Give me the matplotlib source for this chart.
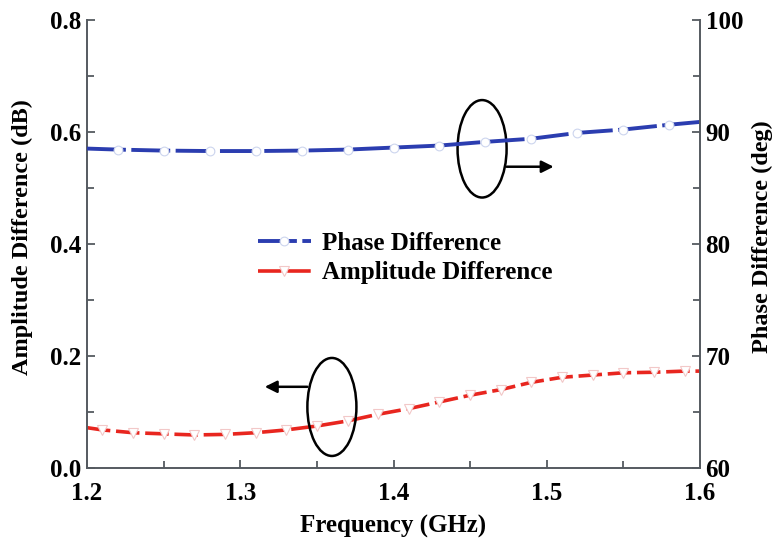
import matplotlib
matplotlib.use("Agg")
import matplotlib.pyplot as plt
from matplotlib.patches import Ellipse
from matplotlib.ticker import MultipleLocator

# ---- data ----
phase_freq = [1.20, 1.22, 1.25, 1.28, 1.31, 1.34, 1.37, 1.40, 1.43, 1.46,
              1.49, 1.52, 1.55, 1.58, 1.60]
phase_deg = [88.52, 88.43, 88.34, 88.30, 88.30, 88.34, 88.43, 88.61, 88.79,
             89.12, 89.40, 89.92, 90.22, 90.65, 90.90]

amp_freq = [1.20, 1.21, 1.23, 1.25, 1.27, 1.29, 1.31, 1.33, 1.35, 1.37, 1.39,
            1.41, 1.43, 1.45, 1.47, 1.49, 1.51, 1.53, 1.55, 1.57, 1.59, 1.60]
amp_db = [0.072, 0.068, 0.063, 0.061, 0.059, 0.060, 0.063, 0.068, 0.075,
          0.084, 0.096, 0.106, 0.118, 0.130, 0.140, 0.153, 0.162, 0.166,
          0.170, 0.171, 0.173, 0.173]

x_ticks = [1.2, 1.3, 1.4, 1.5, 1.6]
left_ticks = [0.0, 0.2, 0.4, 0.6, 0.8]
right_ticks = [60, 70, 80, 90, 100]

labels = ["Phase Difference", "Amplitude Difference"]

# ---- style ----
plt.rcParams['font.family'] = ['Liberation Serif', 'DejaVu Serif']
plt.rcParams['font.weight'] = 'bold'
blue = '#2b3db0'
red = '#e8261f'
spine_col = '#555a60'

fig = plt.figure(figsize=(7.77, 5.41), dpi=100)
ax = fig.add_axes([87/777, 1-468/541, (700-87)/777, (468-20)/541])
ax2 = ax.twinx()

l_phase, = ax2.plot(phase_freq, phase_deg, color=blue, lw=2.8,
                    linestyle=(0, (10, 1.4)), marker='o', ms=6.3,
                    mfc='white', mec='#cdd5ee', mew=0.8,
                    markevery=list(range(1, len(phase_freq) - 1)),
                    label=labels[0])
l_amp, = ax.plot(amp_freq, amp_db, color=red, lw=2.6,
                 linestyle=(0, (6.5, 1.6)), marker='v', ms=6.5,
                 mfc='white', mec='#f2c8c8', mew=0.8,
                 markevery=list(range(1, len(amp_freq) - 1)),
                 label=labels[1])

ax.set_xlim(1.2, 1.6)
ax.set_ylim(0.0, 0.8)
ax2.set_ylim(60, 100)
ax.set_xticks(x_ticks)
ax.set_xticklabels([f"{v:.1f}" for v in x_ticks])
ax.set_yticks(left_ticks)
ax.set_yticklabels([f"{v:.1f}" for v in left_ticks])
ax2.set_yticks(right_ticks)
ax2.set_yticklabels([str(v) for v in right_ticks])
ax.xaxis.set_minor_locator(MultipleLocator(0.05))
ax.yaxis.set_minor_locator(MultipleLocator(0.1))
ax2.yaxis.set_minor_locator(MultipleLocator(5))

for a in (ax, ax2):
    a.spines['top'].set_visible(False)
    for s in ('left', 'right', 'bottom'):
        a.spines[s].set_color(spine_col)
        a.spines[s].set_linewidth(1.4)
    a.tick_params(which='both', direction='in', color=spine_col, width=1.3)
    a.tick_params(which='major', length=6, labelsize=18, pad=4)
    a.tick_params(which='minor', length=5)
ax.tick_params(axis='x', pad=10)
ax2.spines['left'].set_visible(False)
ax2.spines['bottom'].set_visible(False)
ax.spines['right'].set_visible(False)

ax.set_xlabel("Frequency (GHz)", fontsize=18, fontweight='bold', labelpad=7)
fig.text(22/777, 1-237/541, "Amplitude Difference (dB)", rotation=90,
         ha='center', va='center', fontsize=17.5, fontweight='bold')
fig.text(762/777, 1-237/541, "Phase Difference (deg)", rotation=90,
         ha='center', va='center', fontsize=17.5, fontweight='bold')

# ellipses and arrows (in data coordinates of left axis)
ax.add_patch(Ellipse((1.4578, 0.570), 0.032, 0.174, fill=False,
                     ec='black', lw=1.8, zorder=5))
ax.annotate("", xy=(1.5045, 0.538), xytext=(1.4738, 0.538),
            arrowprops=dict(arrowstyle='-|>', color='black', lw=1.8,
                            mutation_scale=18, shrinkA=0, shrinkB=0))
ax.add_patch(Ellipse((1.3598, 0.109), 0.032, 0.175, fill=False,
                     ec='black', lw=1.8, zorder=5))
ax.annotate("", xy=(1.316, 0.145), xytext=(1.3438, 0.145),
            arrowprops=dict(arrowstyle='-|>', color='black', lw=1.8,
                            mutation_scale=18, shrinkA=0, shrinkB=0))

leg = ax.legend(handles=[l_phase, l_amp], labels=labels,
                loc='upper left', bbox_to_anchor=((248-87)/613, 1-(222-20)/448),
                frameon=False, handlelength=2.1,
                handletextpad=0.45, labelspacing=0.25, borderaxespad=0,
                numpoints=1, prop={'weight': 'bold', 'size': 18})
leg.set_zorder(10)

fig.savefig("out.png", dpi=100)
